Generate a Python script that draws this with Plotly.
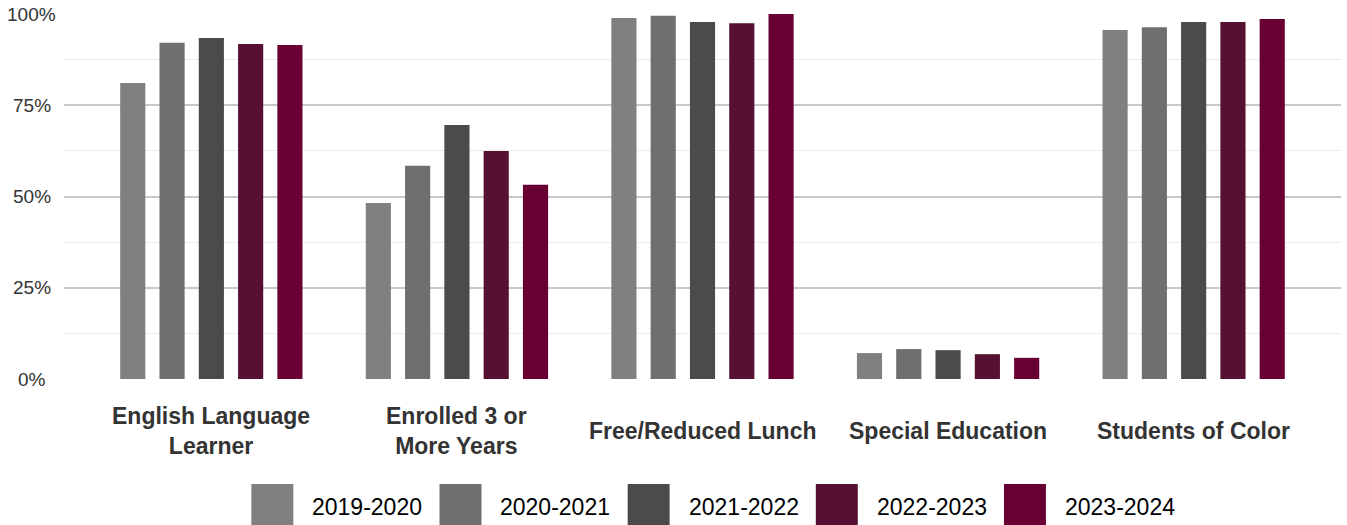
import plotly.graph_objects as go

categories = ["English Language Learner", "Enrolled 3 or More Years", "Free/Reduced Lunch",
              "Special Education", "Students of Color"]
category_labels = ["English Language<br>Learner", "Enrolled 3 or<br>More Years", "Free/Reduced Lunch",
                   "Special Education", "Students of Color"]
years = ["2019-2020", "2020-2021", "2021-2022", "2022-2023", "2023-2024"]
colors = ["#808080", "#6f6f6f", "#4b4b4b", "#561032", "#690033"]

v_2019_2020 = [0.811, 0.482, 0.989, 0.071, 0.956]
v_2020_2021 = [0.921, 0.584, 0.995, 0.082, 0.964]
v_2021_2022 = [0.934, 0.696, 0.978, 0.079, 0.978]
v_2022_2023 = [0.918, 0.625, 0.975, 0.068, 0.978]
v_2023_2024 = [0.915, 0.532, 1.000, 0.058, 0.986]
series = [v_2019_2020, v_2020_2021, v_2021_2022, v_2022_2023, v_2023_2024]

tick_vals = [0, 0.25, 0.5, 0.75, 1.0]
tick_text = ["0%", "25%", "50%", "75%", "100%"]

W, H = 1347, 525
L, R, T, B = 63.5, 5.5, 14, 146
PW, PH = W - L - R, H - T - B

fig = go.Figure()
for name, vals, col in zip(years, series, colors):
    fig.add_trace(go.Bar(x=categories, y=vals, name=name, marker=dict(color=col, line=dict(width=0)),
                         showlegend=False, hoverinfo="skip"))

def px_x(px):
    return (px - L) / PW

def px_y(py):
    return (H - B - py) / PH

annotations = []
for cat, lab in zip(categories, category_labels):
    annotations.append(dict(x=cat, xref="x", y=px_y(431), yref="paper", text=lab, showarrow=False,
                            xanchor="center", yanchor="middle",
                            font=dict(family="Liberation Sans, Arial", size=23, color="#333333",
                                      weight="bold"),
                            align="center"))
for tv, tt in zip(tick_vals, tick_text):
    annotations.append(dict(x=px_x(31), xref="paper", y=tv, yref="y", text=tt, showarrow=False,
                            xanchor="center", yanchor="middle",
                            font=dict(family="Liberation Sans, Arial", size=19, color="#333333")))

shapes = []
for i, (name, col) in enumerate(zip(years, colors)):
    left = 251 + i * 188.3
    shapes.append(dict(type="rect", xref="paper", yref="paper",
                       x0=px_x(left), x1=px_x(left + 42), y0=px_y(484), y1=px_y(525),
                       fillcolor=col, line=dict(width=0)))
    annotations.append(dict(x=px_x(left + 59), xref="paper", y=px_y(507), yref="paper", text=name,
                            showarrow=False, xanchor="left", yanchor="middle",
                            font=dict(family="Liberation Sans, Arial", size=23, color="#000000")))

fig.update_layout(
    width=W, height=H,
    margin=dict(l=L, r=R, t=T, b=B, pad=0),
    plot_bgcolor="white", paper_bgcolor="white",
    barmode="group", bargap=0.2, bargroupgap=0.36,
    showlegend=False,
    annotations=annotations, shapes=shapes,
    xaxis=dict(type="category", range=[-0.6, 4.6], showticklabels=False, showgrid=False,
               zeroline=False, showline=False, ticks=""),
    yaxis=dict(range=[0, 1], tickvals=tick_vals, showticklabels=False, showgrid=True,
               gridcolor="#c8c8c8", gridwidth=1.6, zeroline=False, showline=False, ticks="",
               minor=dict(tickvals=[0.125, 0.375, 0.625, 0.875], showgrid=True,
                          gridcolor="#ebebeb", gridwidth=1)),
)

fig.write_html("out.html", config={"displayModeBar": False},
               post_script="document.body.style.margin='0';")
